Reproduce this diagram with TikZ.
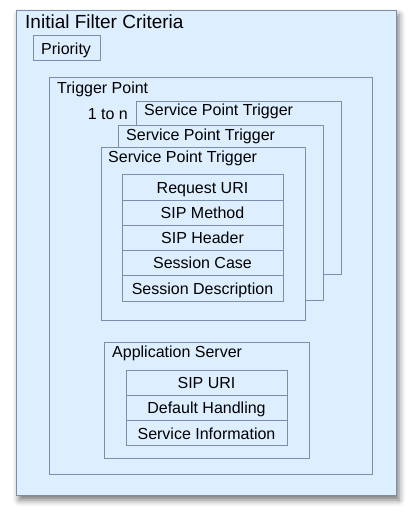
\documentclass[tikz,border=0pt]{standalone}
\usepackage{fontspec}
\setmainfont{Liberation Sans}
\usetikzlibrary{shadows.blur}
\definecolor{boxfill}{RGB}{221,238,255}
\definecolor{boxline}{RGB}{122,143,174}
\begin{document}
\begin{tikzpicture}[x=1pt, y=-1pt,
        font=\fontsize{16}{19}\selectfont,
        box/.style={draw=boxline, fill=boxfill, line width=1pt},
        cell/.style={box, minimum width=161pt, minimum height=25.3pt, inner sep=0pt,
            text height=11.5pt, text depth=0pt},
        label/.style={anchor=base west, inner sep=0pt}]

            \useasboundingbox (0, 0) rectangle (413, 514);

            \coordinate (ifcA) at (16, 10);
            \coordinate (ifcB) at (396, 495);
            \coordinate (prioA) at (33, 35);
            \coordinate (prioB) at (100, 60);
            \coordinate (tpA) at (49, 77);
            \coordinate (tpB) at (372, 474);
            \coordinate (sptA1) at (136, 101);
            \coordinate (sptB1) at (341, 274);
            \coordinate (sptA2) at (118, 125);
            \coordinate (sptB2) at (323, 300);
            \coordinate (sptA3) at (101, 147);
            \coordinate (sptB3) at (305, 320);
            \coordinate (asA) at (104, 342);
            \coordinate (asB) at (309, 458);

            \draw[box, blur shadow={shadow xshift=3pt, shadow yshift=-5pt,
                shadow blur radius=6pt, shadow opacity=55}] (ifcA) rectangle (ifcB);
            \node[label, font=\fontsize{19}{22}\selectfont] (ifc) at (25, 28) {Initial Filter Criteria};

            \draw[box] (prioA) rectangle (prioB);
            \node[label] (prio) at (41, 54) {Priority};

            \draw[box] (tpA) rectangle (tpB);
            \node[label] (tp) at (57, 93) {Trigger Point};
            \node[anchor=base east, inner sep=0pt] (mult) at (128, 119) {1 to n};

            \draw[box] (sptA1) rectangle (sptB1);
            \node[label] (spt1) at (144, 115) {Service Point Trigger};
            \draw[box] (sptA2) rectangle (sptB2);
            \node[label] (spt2) at (126, 140) {Service Point Trigger};
            \draw[box] (sptA3) rectangle (sptB3);
            \node[label] (spt3) at (108, 162) {Service Point Trigger};

            \node[cell] (ruri) at (202.5, 187.6) {Request URI};
            \node[cell] (meth) at (202.5, 212.8) {SIP Method};
            \node[cell] (head) at (202.5, 238.0) {SIP Header};
            \node[cell] (scase) at (202.5, 263.2) {Session Case};
            \node[cell] (sdesc) at (202.5, 288.4) {Session Description};

            \draw[box] (asA) rectangle (asB);
            \node[label] (as) at (112, 357) {Application Server};

            \node[cell] (suri) at (206.5, 382.7) {SIP URI};
            \node[cell] (dflt) at (206.5, 408.0) {Default Handling};
            \node[cell] (sinfo) at (206.5, 433.3) {Service Information};

        \end{tikzpicture}
\end{document}
